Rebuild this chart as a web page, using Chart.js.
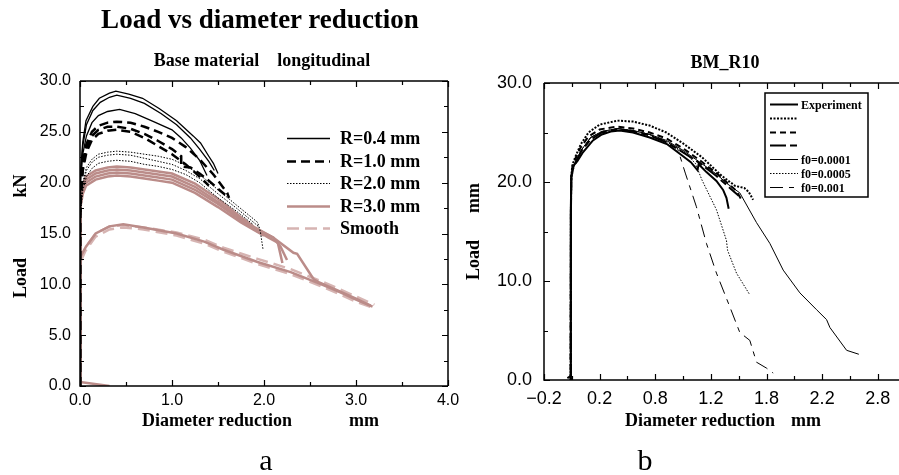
<!DOCTYPE html>
<html>
<head>
<meta charset="utf-8">
<script src="https://cdn.jsdelivr.net/npm/chart.js@4.4.1/dist/chart.umd.min.js"></script>
<style>
  body { margin: 0; width: 899px; height: 475px; overflow: hidden; background: #fff; position: relative; }
  canvas { position: absolute; top: 0; }
  #chartA { left: 0; }
  #chartB { left: 450px; }
  .t { position: absolute; white-space: pre; line-height: 1; color: #000;
       font-family: "Liberation Serif", "Times New Roman", serif; font-weight: bold;
       transform: translate(-50%, -50%); }
  .r { transform: translate(-50%, -50%) rotate(-90deg); }
  .n { font-weight: normal; }
</style>
</head>
<body>
<canvas id="chartA" width="470" height="475"></canvas>
<canvas id="chartB" width="450" height="475"></canvas>

<div class="t" style="left:260px;top:19px;font-size:27px">Load vs diameter reduction</div>
<div class="t" style="left:262px;top:60px;font-size:18px">Base material    longitudinal</div>
<div class="t r" style="left:20px;top:278px;font-size:18px">Load</div>
<div class="t r" style="left:20px;top:186px;font-size:18px">kN</div>
<div class="t" style="left:217px;top:420px;font-size:18px">Diameter reduction</div>
<div class="t" style="left:364px;top:420px;font-size:18px">mm</div>
<div class="t n" style="left:266px;top:460px;font-size:30px">a</div>

<div class="t" style="left:725px;top:62px;font-size:18px">BM_R10</div>
<div class="t r" style="left:473px;top:260px;font-size:18px">Load</div>
<div class="t r" style="left:473px;top:198px;font-size:18px">mm</div>
<div class="t" style="left:700px;top:420px;font-size:18px">Diameter reduction</div>
<div class="t" style="left:806px;top:420px;font-size:18px">mm</div>
<div class="t n" style="left:645px;top:460px;font-size:30px">b</div>

<script>
// ---------- chart a : base material, longitudinal ----------
const xTicksA = [0, 1, 2, 3, 4];
const xTickLabelsA = ['0.0', '1.0', '2.0', '3.0', '4.0'];
const yTicksA = [0, 5, 10, 15, 20, 25, 30];
const yTickLabelsA = ['0.0', '5.0', '10.0', '15.0', '20.0', '25.0', '30.0'];
const seriesA = ['R=0.4 mm', 'R=1.0 mm', 'R=2.0 mm', 'R=3.0 mm', 'Smooth'];

// [diameter reduction mm, load kN]
const r04a = [[0,0],[0,17.5],[0.01,21],[0.03,24],[0.065,26.1],[0.14,27.5],[0.21,28.3],[0.32,28.8],[0.39,29.0],[0.53,28.7],[0.68,28.3],[0.86,27.3],[1.05,26.1],[1.23,24.6],[1.31,23.9],[1.4,22.6],[1.45,21.9],[1.5,20.9]];
const r04b = [[0,0],[0,17.2],[0.01,20.6],[0.03,23.6],[0.07,25.7],[0.14,27.1],[0.22,27.9],[0.32,28.4],[0.4,28.6],[0.55,28.3],[0.7,27.8],[0.88,26.8],[1.05,25.7],[1.2,24.4],[1.3,23.3],[1.4,22.1],[1.46,21.2]];
const r04c = [[0,0],[0,17],[0.01,20],[0.03,22.8],[0.07,24.6],[0.13,25.9],[0.2,26.6],[0.3,27.0],[0.43,27.2],[0.6,26.8],[0.8,26.0],[1.0,25.2],[1.1,24.4],[1.2,23.4],[1.3,22.2],[1.38,20.7]];

const r10a = [[0,0],[0,17],[0.01,19.5],[0.03,22],[0.07,23.8],[0.13,25.0],[0.2,25.6],[0.3,25.9],[0.4,26.0],[0.55,25.9],[0.7,25.5],[0.85,25.0],[1.0,24.4],[1.15,23.5],[1.3,22.3],[1.45,20.8],[1.55,19.6],[1.6,19.0],[1.62,18.5]];
const r10b = [[0,0],[0,16.8],[0.01,19.2],[0.03,21.6],[0.07,23.4],[0.13,24.6],[0.2,25.2],[0.3,25.5],[0.4,25.5],[0.55,25.3],[0.7,24.8],[0.85,24.1],[1.0,23.3],[1.1,22.6],[1.1,21.6],[1.2,21.5],[1.3,20.9],[1.4,20.2],[1.5,19.4],[1.58,18.8]];
const r10c = [[0,0],[0,16.5],[0.01,18.8],[0.03,21.2],[0.07,23.0],[0.13,24.2],[0.2,24.8],[0.3,25.1],[0.4,25.2],[0.55,25.0],[0.7,24.4],[0.85,23.6],[1.0,22.8],[1.15,21.8],[1.3,20.6],[1.4,19.7]];

const r20a = [[0,0],[0,16],[0.01,18],[0.03,20],[0.07,21.5],[0.13,22.3],[0.2,22.8],[0.3,23.0],[0.4,23.1],[0.55,23.0],[0.7,22.8],[0.85,22.6],[1.0,22.3],[1.15,21.7],[1.3,20.8],[1.5,19.3],[1.7,17.8],[1.85,16.7],[1.93,16.1],[1.96,15.2],[1.99,13.4]];
const r20b = [[0,0],[0,15.8],[0.01,17.7],[0.03,19.7],[0.07,21.2],[0.13,22.0],[0.2,22.5],[0.3,22.7],[0.4,22.8],[0.55,22.7],[0.7,22.4],[0.85,22.1],[1.0,21.8],[1.15,21.2],[1.3,20.4],[1.5,18.9],[1.7,17.5],[1.9,16.0],[1.95,15.6]];
const r20c = [[0,0],[0,15.5],[0.01,17.3],[0.03,19.2],[0.07,20.6],[0.13,21.4],[0.2,21.9],[0.3,22.1],[0.4,22.2],[0.55,22.1],[0.7,21.8],[0.85,21.6],[1.0,21.3],[1.15,20.8],[1.3,20.0],[1.5,18.5],[1.7,17.2],[1.88,15.9]];

const r30a = [[0,0],[0,15.5],[0.01,18.5],[0.03,19.8],[0.065,20.6],[0.17,21.2],[0.3,21.5],[0.4,21.6],[0.55,21.5],[0.7,21.3],[0.85,21.1],[1.0,20.9],[1.25,19.9],[1.5,18.4],[1.75,16.6],[1.9,15.6],[2.1,14.6],[2.32,13.1],[2.36,13.0],[2.54,10.5],[2.6,10.2],[2.8,9.4],[3.0,8.6],[3.16,7.9]];
const r30b = [[0,0],[0,15.2],[0.01,18.2],[0.03,19.5],[0.065,20.3],[0.17,20.9],[0.3,21.2],[0.4,21.3],[0.55,21.2],[0.7,21.0],[0.85,20.8],[1.0,20.6],[1.25,19.6],[1.5,18.1],[1.75,16.4],[1.9,15.5],[2.1,14.6],[2.18,13.7],[2.25,12.4]];
const r30c = [[0,0],[0,15],[0.01,17.9],[0.03,19.2],[0.065,20.0],[0.17,20.6],[0.3,20.9],[0.4,21.0],[0.55,20.9],[0.7,20.7],[0.85,20.5],[1.0,20.3],[1.25,19.3],[1.5,17.9],[1.75,16.3],[1.9,15.4],[2.05,14.6],[2.15,14.1],[2.2,12.1]];
const r30d = [[0,0],[0,14.8],[0.01,17.6],[0.03,18.9],[0.065,19.7],[0.17,20.3],[0.3,20.6],[0.4,20.7],[0.55,20.6],[0.7,20.4],[0.85,20.2],[1.0,20.0],[1.25,19.0],[1.5,17.6],[1.75,16.1],[1.9,15.3],[2.0,14.8]];
const r30e = [[0.32,0],[0,0.4],[0,12.4],[0.01,12.7],[0.065,13.7],[0.17,15.0],[0.32,15.7],[0.47,15.9],[0.69,15.6],[1.05,15.0],[1.35,14.2],[1.56,13.4],[1.93,12.2],[2.29,11.2],[2.65,9.9],[2.83,9.2],[3.0,8.5],[3.18,7.8]];

const smA = [[0,0],[0,12.2],[0.01,12.6],[0.06,13.6],[0.17,15.0],[0.32,15.7],[0.47,15.8],[0.69,15.6],[1.05,15.1],[1.35,14.4],[1.56,13.6],[1.93,12.5],[2.29,11.5],[2.65,10.2],[2.83,9.5],[3.0,8.8],[3.2,8.0]];
const smB = [[0,0],[0,12.0],[0.01,12.3],[0.06,13.3],[0.17,14.7],[0.32,15.4],[0.47,15.6],[0.69,15.4],[1.05,14.8],[1.35,14.0],[1.56,13.2],[1.93,12.0],[2.29,11.0],[2.65,9.7],[2.83,9.0],[3.0,8.3],[3.18,7.7]];

const curvesA = [[r04a, r04b, r04c], [r10a, r10b, r10c], [r20a, r20b, r20c], [r30a, r30b, r30c, r30d, r30e], [smA, smB]];

// ---------- chart b : BM_R10 ----------
const xTicksB = [-0.2, 0.3, 0.8, 1.3, 1.8, 2.3, 2.8];
const xTickLabelsB = ['\u22120.2', '0.2', '0.8', '1.2', '1.8', '2.2', '2.8'];
const yTicksB = [0, 10, 20, 30];
const yTickLabelsB = ['0.0', '10.0', '20.0', '30.0'];
const seriesB = ['Experiment', '', '', '', 'f0=0.0001', 'f0=0.0005', 'f0=0.001'];

const expB = [[0.01,0.2],[0.04,0.4],[0.04,10],[0.042,17],[0.045,20.3],[0.055,21.3],[0.07,21.7],[0.1,22.1],[0.15,23.0],[0.24,24.2],[0.32,24.8],[0.4,25.1],[0.48,25.2],[0.6,25.0],[0.75,24.5],[0.91,23.8],[1.05,22.6],[1.12,22.0],[1.18,21.2],[1.19,21.8],[1.26,21.0],[1.35,20.1],[1.41,19.2],[1.44,18.4],[1.46,17.3]];
const dotB = [[0.04,0],[0.042,17],[0.045,20.6],[0.055,21.7],[0.08,22.5],[0.13,23.8],[0.2,25.0],[0.3,25.8],[0.46,26.2],[0.6,26.1],[0.75,25.7],[0.9,25.0],[1.05,23.9],[1.22,22.5],[1.4,20.6],[1.52,19.6],[1.6,19.4],[1.64,19.0],[1.68,18.2]];
const dashB = [[0.04,0],[0.042,17],[0.045,20.5],[0.055,21.5],[0.08,22.3],[0.13,23.5],[0.2,24.6],[0.3,25.3],[0.45,25.6],[0.6,25.4],[0.75,25.0],[0.9,24.4],[1.05,23.4],[1.2,22.2],[1.35,20.9],[1.45,19.9],[1.53,19.1],[1.57,18.3]];
const lngB = [[0.04,0],[0.042,17],[0.046,20.3],[0.06,21.3],[0.09,22.1],[0.14,23.2],[0.22,24.3],[0.32,25.0],[0.46,25.3],[0.6,25.1],[0.75,24.7],[0.9,24.0],[1.05,23.0],[1.2,21.9],[1.35,20.6],[1.47,19.4],[1.55,18.6]];
const f1B = [[0.04,0],[0.042,17],[0.046,20.4],[0.06,21.4],[0.09,22.2],[0.14,23.3],[0.22,24.5],[0.32,25.1],[0.46,25.4],[0.6,25.2],[0.75,24.8],[0.9,24.2],[1.05,23.2],[1.2,22.0],[1.35,20.8],[1.45,19.8],[1.56,18.9],[1.71,15.9],[1.83,13.8],[1.95,11.1],[2.1,8.8],[2.25,7.1],[2.34,6.1],[2.37,5.3],[2.52,3.0],[2.63,2.6]];
const f5B = [[0.04,0],[0.042,17],[0.046,20.4],[0.06,21.4],[0.09,22.2],[0.14,23.3],[0.22,24.5],[0.32,25.1],[0.46,25.4],[0.6,25.2],[0.75,24.8],[0.9,24.1],[1.05,23.1],[1.16,21.9],[1.22,20.2],[1.35,17.2],[1.44,14.1],[1.45,13.1],[1.53,10.8],[1.65,8.6]];
const f10B = [[0.04,0],[0.042,17],[0.046,20.4],[0.06,21.4],[0.09,22.2],[0.14,23.3],[0.22,24.5],[0.32,25.1],[0.46,25.4],[0.6,25.2],[0.75,24.8],[0.9,24.1],[1.0,23.4],[1.07,20.9],[1.17,17.5],[1.26,13.8],[1.35,10.8],[1.47,7.4],[1.56,4.8],[1.65,4.0],[1.71,1.8],[1.8,1.2],[1.86,0.7]];

const curvesB = [expB, dotB, dashB, lngB, f1B, f5B, f10B];

// line styles
const styleA = [
  { color: '#000', width: 1.3, dash: [] },
  { color: '#000', width: 2.5, dash: [9, 5] },
  { color: '#000', width: 1, dash: [1.5, 1.5] },
  { color: '#bb8c89', width: 2.5, dash: [] },
  { color: '#d6b4b2', width: 2.5, dash: [12, 6] }
];
const styleB = [
  { width: 2, dash: [] },
  { width: 2, dash: [2, 1.5] },
  { width: 2, dash: [6, 4] },
  { width: 2, dash: [16, 4, 7, 4] },
  { width: 1, dash: [] },
  { width: 1, dash: [1.5, 1.5] },
  { width: 1, dash: [13, 6, 5, 6] }
];

// frame with inward ticks on every side of the plot
const frame = {
  id: 'frame',
  afterDatasetsDraw(chart, args, o) {
    const { ctx, chartArea: a, scales: { x, y } } = chart;
    ctx.save();
    ctx.strokeStyle = '#000';
    ctx.lineWidth = 1.5;
    ctx.beginPath();
    ctx.moveTo(a.left, a.top); ctx.lineTo(a.left, a.bottom); ctx.lineTo(a.right, a.bottom);
    ctx.moveTo(a.left, a.top); ctx.lineTo(a.right, a.top);
    if (o.right) { ctx.moveTo(a.right, a.top); ctx.lineTo(a.right, a.bottom); }
    ctx.stroke();
    ctx.lineWidth = 1.2;
    ctx.beginPath();
    for (let i = 0, v = o.x0; v <= x.max + 1e-9; i++, v = o.x0 + i * o.xs) {
      const px = Math.round(x.getPixelForValue(v)) + 0.5;
      const len = i % 2 ? 4 : 6;
      ctx.moveTo(px, a.bottom); ctx.lineTo(px, a.bottom - len);
      ctx.moveTo(px, a.top); ctx.lineTo(px, a.top + len);
    }
    for (let i = 0, v = y.min; v <= y.max + 1e-9; i++, v = y.min + i * o.ys) {
      const py = Math.round(y.getPixelForValue(v)) + 0.5;
      const len = i % 2 ? 4 : 6;
      ctx.moveTo(a.left, py); ctx.lineTo(a.left + len, py);
      if (o.right) { ctx.moveTo(a.right, py); ctx.lineTo(a.right - len, py); }
    }
    ctx.stroke();
    ctx.restore();
  }
};

// legend with line samples at a fixed place
const lineLegend = {
  id: 'lineLegend',
  afterDraw(chart, args, o) {
    const ctx = chart.ctx;
    ctx.save();
    if (o.box) {
      ctx.lineWidth = 1.5; ctx.strokeStyle = '#000';
      ctx.strokeRect(o.box[0], o.box[1], o.box[2], o.box[3]);
    }
    ctx.font = o.font;
    ctx.textBaseline = 'middle';
    ctx.fillStyle = '#000';
    o.items.forEach((it, i) => {
      const yy = Math.round(o.y + i * o.row) + 0.5;
      ctx.beginPath();
      ctx.setLineDash(it.dash);
      ctx.lineWidth = it.width;
      ctx.strokeStyle = it.color || '#000';
      ctx.moveTo(o.x, yy); ctx.lineTo(o.x + o.len, yy);
      ctx.stroke();
      ctx.setLineDash([]);
      if (it.label) ctx.fillText(it.label, o.x + o.len + o.gap, yy + 1);
    });
    ctx.restore();
  }
};

function fixedTicks(values, labels, font, padding) {
  return {
    afterBuildTicks: s => { s.ticks = values.map(v => ({ value: v })); },
    ticks: { callback: (v, i) => labels[i], font: font, color: '#000', padding: padding, maxRotation: 0, autoSkip: false },
    grid: { display: false, drawTicks: false },
    border: { display: false }
  };
}

const datasetsA = [];
curvesA.forEach((group, s) => {
  group.forEach(c => {
    datasetsA.push({
      label: seriesA[s], data: c, showLine: true, pointRadius: 0,
      borderColor: styleA[s].color, borderWidth: styleA[s].width, borderDash: styleA[s].dash,
      fill: false, tension: 0
    });
  });
});

new Chart(document.getElementById('chartA'), {
  type: 'scatter',
  data: { datasets: datasetsA },
  options: {
    responsive: false, animation: false, events: [],
    layout: { padding: { left: 0, top: 81, right: 22, bottom: 0 } },
    scales: {
      x: Object.assign({ type: 'linear', min: 0, max: 4,
        afterFit: s => { s.height = 89; s.paddingLeft = 0; s.paddingRight = 0; } },
        fixedTicks(xTicksA, xTickLabelsA, { family: 'Liberation Sans', size: 16 }, 5)),
      y: Object.assign({ type: 'linear', min: 0, max: 30,
        afterFit: s => { s.width = 80; s.paddingTop = 0; s.paddingBottom = 0; } },
        fixedTicks(yTicksA, yTickLabelsA, { family: 'Liberation Sans', size: 16 }, 9))
    },
    plugins: {
      legend: { display: false }, tooltip: { enabled: false },
      frame: { right: true, x0: 0, xs: 0.5, ys: 2.5 },
      lineLegend: {
        x: 287, len: 43, gap: 10, y: 138, row: 22.5,
        font: 'bold 18px "Liberation Serif", serif',
        items: seriesA.map((l, i) => ({ label: l, color: styleA[i].color, width: styleA[i].width, dash: styleA[i].dash }))
      }
    }
  },
  plugins: [frame, lineLegend]
});

new Chart(document.getElementById('chartB'), {
  type: 'scatter',
  data: {
    datasets: curvesB.map((c, i) => ({
      label: seriesB[i], data: c, showLine: true, pointRadius: 0,
      borderColor: '#000', borderWidth: styleB[i].width, borderDash: styleB[i].dash,
      fill: false, tension: 0
    }))
  },
  options: {
    responsive: false, animation: false, events: [],
    layout: { padding: { left: 0, top: 83, right: 0, bottom: 0 } },
    scales: {
      x: Object.assign({ type: 'linear', min: -0.2, max: 3.0,
        afterFit: s => { s.height = 95; s.paddingLeft = 0; s.paddingRight = 0; } },
        fixedTicks(xTicksB, xTickLabelsB, { family: 'Liberation Sans', size: 18 }, 8)),
      y: Object.assign({ type: 'linear', min: 0, max: 30,
        afterFit: s => { s.width = 94; s.paddingTop = 0; s.paddingBottom = 0; } },
        fixedTicks(yTicksB, yTickLabelsB, { family: 'Liberation Sans', size: 18 }, 12))
    },
    plugins: {
      legend: { display: false }, tooltip: { enabled: false },
      frame: { right: false, x0: -0.2, xs: 0.25, ys: 5 },
      lineLegend: {
        box: [315, 93, 103, 104],
        x: 320, len: 28, gap: 3, y: 104, row: 13.8,
        font: 'bold 12px "Liberation Serif", serif',
        items: seriesB.map((l, i) => ({ label: l, width: styleB[i].width, dash: styleB[i].dash }))
      }
    }
  },
  plugins: [frame, lineLegend]
});
</script>
</body>
</html>
